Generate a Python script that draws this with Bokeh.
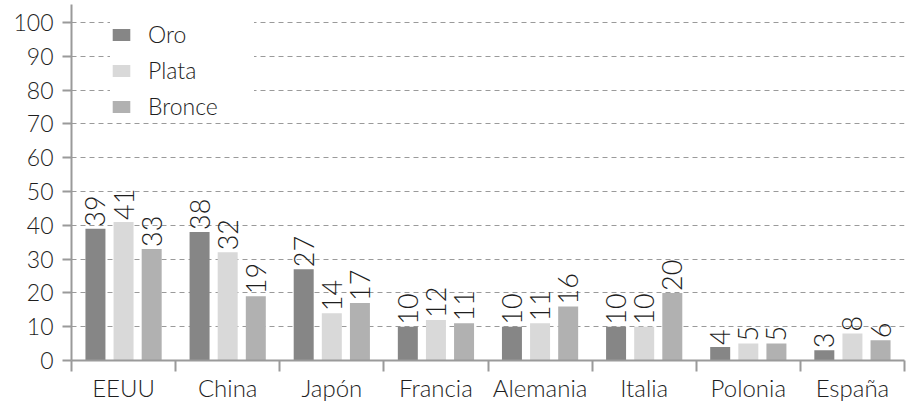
import math
from bokeh.plotting import figure
from bokeh.models import ColumnDataSource, FixedTicker, Range1d
from bokeh.core.properties import value
from bokeh.embed import file_html
from bokeh.resources import INLINE

paises = ["EEUU", "China", "Japón", "Francia", "Alemania", "Italia", "Polonia", "España"]
oro = [39, 38, 27, 10, 10, 10, 4, 3]
plata = [41, 32, 14, 12, 11, 10, 5, 8]
bronce = [33, 19, 17, 11, 16, 20, 5, 6]
y_ticks = list(range(0, 101, 10))

FONT = "Lato Light, Lato, DejaVu Sans"
TXT = "#1e1e1e"
AX = "#9a9a9a"

p = figure(width=906, height=404, output_backend="svg", toolbar_location=None,
           x_range=Range1d(0, 8), y_range=Range1d(0, 105.3),
           min_border_left=71, min_border_right=2, min_border_top=4, min_border_bottom=42)
p.outline_line_color = None
p.background_fill_color = "white"

series = [("Oro", oro, "#868686", -0.27), ("Plata", plata, "#d9d9d9", 0.0), ("Bronce", bronce, "#b1b1b1", 0.27)]
for name, vals, col, off in series:
    src = ColumnDataSource(dict(x=[i + 0.5 + off for i in range(len(paises))], top=vals,
                                lab=[str(v) for v in vals]))
    p.vbar(x="x", top="top", bottom=0, width=0.192, source=src, fill_color=col, line_color=None,
           legend_label=name)
    p.text(x="x", y="top", text="lab", source=src, angle=math.pi / 2, text_align="left",
           text_baseline="middle", y_offset=-2, text_font=value(FONT), text_font_size="27px",
           text_color=TXT)

# axes
xa = p.xaxis[0]
xa.ticker = FixedTicker(ticks=[i + 0.5 for i in range(len(paises))], minor_ticks=list(range(len(paises) + 1)))
xa.major_label_overrides = {i + 0.5: n for i, n in enumerate(paises)}
xa.major_tick_out = 0
xa.major_tick_in = 0
xa.minor_tick_out = 11
xa.minor_tick_in = 0
xa.minor_tick_line_color = AX
xa.minor_tick_line_width = 2
xa.axis_line_color = AX
xa.axis_line_width = 2
xa.major_label_standoff = 1
xa.major_label_text_font = FONT
xa.major_label_text_font_size = "24px"
xa.major_label_text_color = TXT

ya = p.yaxis[0]
ya.ticker = FixedTicker(ticks=y_ticks)
ya.major_tick_out = 9
ya.major_tick_in = 0
ya.minor_tick_out = 0
ya.minor_tick_in = 0
ya.major_tick_line_color = AX
ya.major_tick_line_width = 2
ya.axis_line_color = AX
ya.axis_line_width = 2
ya.major_label_standoff = 9
ya.major_label_text_font = FONT
ya.major_label_text_font_size = "23px"
ya.major_label_text_color = TXT

p.xgrid.grid_line_color = None
p.ygrid.ticker = FixedTicker(ticks=y_ticks)
p.ygrid.grid_line_color = "#9a9a9a"
p.ygrid.grid_line_dash = "5 4"
p.ygrid.grid_line_width = 1

lg = p.legend[0]
lg.location = (39, 240)
lg.border_line_color = None
lg.background_fill_color = "white"
lg.background_fill_alpha = 1.0
lg.padding = 4
lg.spacing = 8
lg.margin = 0
lg.glyph_width = 22
lg.glyph_height = 15
lg.label_height = 25
lg.label_width = 106
lg.label_standoff = 16
lg.label_text_font = FONT
lg.label_text_font_size = "23px"
lg.label_text_color = TXT

open("out.html", "w").write(file_html(p, INLINE))
